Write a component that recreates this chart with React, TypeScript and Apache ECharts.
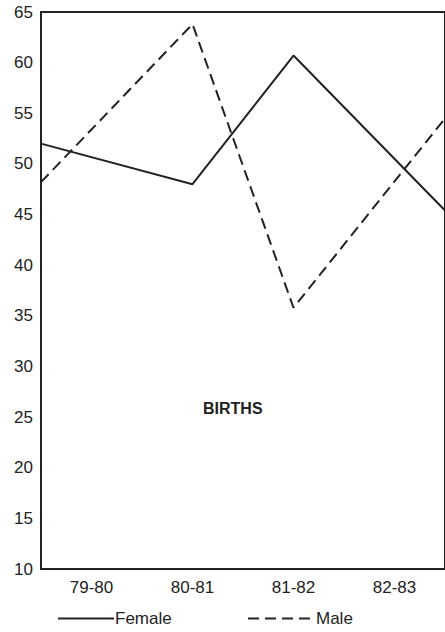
import React, { useEffect, useRef } from "react";
import * as echarts from "echarts";

// Period labels on the x axis
const categories = ["79-80", "80-81", "81-82", "82-83"];
// Position of each reading along the period axis (in period units; the lines run from the left axis to beyond the right edge)
const periodPos = [-0.5, 1, 2, 3.5];
// Birth counts
const female = [52, 48, 60.7, 45.4];
const male = [48.2, 63.8, 35.8, 54.5];
// Y axis scale
const yMin = 10;
const yMax = 65;
const yStep = 5;

const INK = "#222";
const FONT = "Liberation Sans";

export default function App() {
  const ref = useRef<HTMLDivElement>(null);
  useEffect(() => {
    if (!ref.current) return;
    const chart = echarts.init(ref.current, null, { renderer: "svg" });
    const legendBase = {
      top: 610,
      padding: 0,
      itemHeight: 14,
      itemStyle: { opacity: 0 },
      textStyle: { fontFamily: FONT, fontSize: 17, color: INK, padding: [0, 0, 0, -4] },
    };
    chart.setOption({
      animation: false,
      backgroundColor: "#fff",
      title: {
        text: "BIRTHS",
        left: 203,
        top: 400,
        padding: 0,
        textStyle: { fontFamily: FONT, fontSize: 16, fontWeight: "bold", color: INK },
      },
      legend: [
        { ...legendBase, data: ["Female"], left: 57, itemWidth: 56 },
        { ...legendBase, data: ["Male"], left: 247, itemWidth: 67 },
      ],
      grid: {
        left: 41,
        top: 12,
        right: -2,
        bottom: 63,
        show: true,
        borderColor: INK,
        borderWidth: 2,
      },
      xAxis: [
        {
          type: "category",
          data: categories,
          boundaryGap: true,
          axisLine: { show: true, onZero: false, lineStyle: { color: INK, width: 2 } },
          axisTick: { show: false },
          axisLabel: { color: INK, fontFamily: FONT, fontSize: 17, margin: 10 },
        },
        { type: "value", min: -0.5, max: 3.5, show: false },
      ],
      yAxis: {
        type: "value",
        min: yMin,
        max: yMax,
        interval: yStep,
        axisLine: { show: true, onZero: false, lineStyle: { color: INK, width: 2 } },
        axisTick: { show: false },
        splitLine: { show: false },
        axisLabel: { color: INK, fontFamily: FONT, fontSize: 17, margin: 8 },
      },
      series: [
        {
          name: "Female",
          type: "line",
          xAxisIndex: 1,
          data: periodPos.map((x, i) => [x, female[i]]),
          symbol: "none",
          lineStyle: { color: INK, width: 2 },
          itemStyle: { color: INK },
        },
        {
          name: "Male",
          type: "line",
          xAxisIndex: 1,
          data: periodPos.map((x, i) => [x, male[i]]),
          symbol: "none",
          lineStyle: { color: INK, width: 2, type: [11, 6] },
          itemStyle: { color: INK },
        },
      ],
    });
    return () => chart.dispose();
  }, []);
  return (
    <div
      ref={ref}
      style={{ position: "absolute", left: 0, top: 0, width: 445, height: 632 }}
    />
  );
}
